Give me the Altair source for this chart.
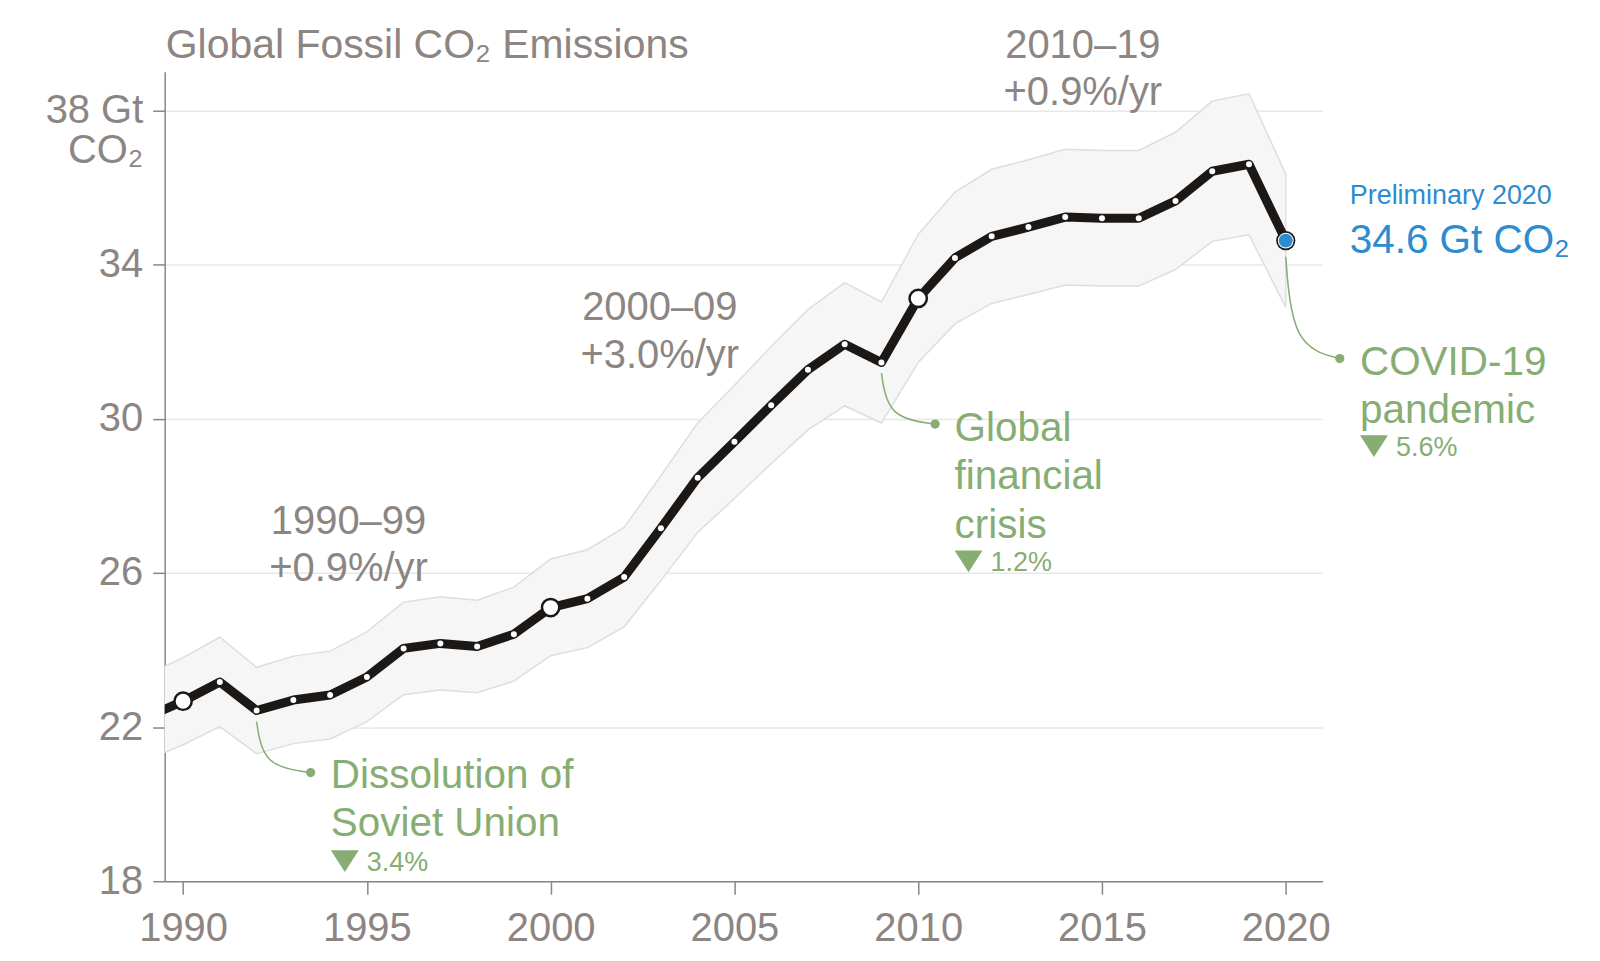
import altair as alt
import pandas as pd

# ---------------- data ----------------
years = list(range(1989, 2021))
emissions = [22.25, 22.67, 23.17, 22.43, 22.70, 22.83, 23.30, 24.04, 24.17, 24.09,
             24.41, 25.10, 25.33, 25.89, 27.16, 28.47, 29.40, 30.35, 31.27, 31.93,
             31.46, 33.12, 34.17, 34.73, 34.97, 35.23, 35.20, 35.20, 35.65, 36.42,
             36.60, 34.62]
upper = [23.36, 23.80, 24.33, 23.55, 23.84, 23.97, 24.47, 25.24, 25.38, 25.29,
         25.63, 26.36, 26.60, 27.18, 28.52, 29.89, 30.87, 31.87, 32.83, 33.53,
         33.03, 34.78, 35.88, 36.47, 36.72, 36.99, 36.96, 36.96, 37.43, 38.24,
         38.43, 36.35]
lower = [21.14, 21.54, 22.01, 21.31, 21.57, 21.69, 22.14, 22.84, 22.96, 22.89,
         23.19, 23.85, 24.06, 24.60, 25.80, 27.05, 27.93, 28.83, 29.71, 30.33,
         29.89, 31.46, 32.46, 32.99, 33.22, 33.47, 33.44, 33.44, 33.87, 34.60,
         34.77, 32.89]

milestone_years = [1990, 2000, 2010]
prelim_year = 2020

title_text = "Global Fossil CO₂ Emissions"
title_x = [1989.53]
title_y = [39.37]

decade_text = ["1990–99\n+0.9%/yr", "2000–09\n+3.0%/yr", "2010–19\n+0.9%/yr"]
decade_x = [1994.5, 2002.97, 2014.48]
decade_y = [27.02, 32.56, 39.37]

event_name = ["soviet", "gfc", "covid"]
event_text = ["Dissolution of\nSoviet Union", "Global\nfinancial\ncrisis", "COVID-19\npandemic"]
event_x = [1994.02, 2010.99, 2022.02]
event_y = [20.43, 29.42, 31.14]
event_drop = ["3.4%", "1.2%", "5.6%"]
event_drop_y = [18.26, 26.04, 29.03]
event_year = [1992, 2009, 2020]
event_start_y = [22.14, 31.18, 34.20]
event_dot_x = [1993.47, 2010.46, 2021.47]
event_dot_y = [20.82, 29.86, 31.56]

prelim_label = ["Preliminary 2020", "34.6 Gt CO₂"]
prelim_label_x = [2021.74, 2021.74]
prelim_label_y = [35.57, 34.31]

y_ticks = [18, 22, 26, 30, 34, 38]
x_ticks = [1990, 1995, 2000, 2005, 2010, 2015, 2020]

# ---------------- styles ----------------
FONT = "Liberation Sans"
GRAY = "#8c8582"
GREEN = "#86ad73"
BLUE = "#2b8ccf"
BLACK = "#1b1816"

df = pd.DataFrame({"year": years, "value": emissions, "upper": upper, "lower": lower})
pts = df[df.year >= 1990]
small = pts[~pts.year.isin(milestone_years + [prelim_year])]
big = pts[pts.year.isin(milestone_years)]
prelim = pts[pts.year == prelim_year]

xs = alt.Scale(domain=[1989.5, 2021], nice=False, zero=False)
ys = alt.Scale(domain=[18, 39], nice=False, zero=False)

X = alt.X("year:Q", scale=xs, axis=alt.Axis(
    values=x_ticks, format="d", grid=False, title=None,
    domainColor=GRAY, domainWidth=1.5, tickColor=GRAY, tickWidth=1.5, tickSize=13,
    labelFont=FONT, labelFontSize=40, labelColor=GRAY, labelPadding=14,
    labelFlush=False, labelOverlap=False, labelBound=False))
Y = alt.Y("value:Q", scale=ys, axis=alt.Axis(
    values=y_ticks, title=None, grid=True, gridColor="#e8e8e8", gridWidth=1.5,
    domainColor=GRAY, domainWidth=1.5, tickColor=GRAY, tickWidth=1.5, tickSize=12,
    labelFont=FONT, labelFontSize=40, labelColor=GRAY, labelPadding=10,
    labelExpr="datum.value == 38 ? ['38 Gt', 'CO₂'] : datum.label",
    labelLineHeight=40))

base = alt.Chart(df)

band = base.mark_area(clip=True, color="#f6f6f6", stroke="#dedede", strokeWidth=1.5).encode(
    x=X, y=alt.Y("upper:Q", scale=ys), y2="lower:Q")

line = base.mark_line(clip=True, color=BLACK, strokeWidth=9, strokeJoin="round").encode(x=X, y=Y)

small_dots = alt.Chart(small).mark_circle(color="white", opacity=1, size=36).encode(
    x=alt.X("year:Q", scale=xs), y=alt.Y("value:Q", scale=ys))
big_dots = alt.Chart(big).mark_point(filled=True, fill="white", stroke=BLACK, strokeWidth=2.5,
                                      size=300, opacity=1, shape="circle").encode(
    x=alt.X("year:Q", scale=xs), y=alt.Y("value:Q", scale=ys))
pre_outer = alt.Chart(prelim).mark_circle(color=BLACK, size=370, opacity=1).encode(
    x=alt.X("year:Q", scale=xs), y=alt.Y("value:Q", scale=ys))
pre_mid = alt.Chart(prelim).mark_circle(color="white", size=250, opacity=1).encode(
    x=alt.X("year:Q", scale=xs), y=alt.Y("value:Q", scale=ys))
pre_inner = alt.Chart(prelim).mark_circle(color=BLUE, size=195, opacity=1).encode(
    x=alt.X("year:Q", scale=xs), y=alt.Y("value:Q", scale=ys))

# title
title_df = pd.DataFrame({"x": title_x, "y": title_y, "t": [title_text]})
title = alt.Chart(title_df).mark_text(font=FONT, fontSize=41, color=GRAY, align="left",
                                      baseline="alphabetic").encode(
    x=alt.X("x:Q", scale=xs), y=alt.Y("y:Q", scale=ys), text="t:N")

# decade labels
dec_df = pd.DataFrame({"x": decade_x, "y": decade_y, "t": decade_text})
decades = alt.Chart(dec_df).mark_text(font=FONT, fontSize=40, color=GRAY, align="center",
                                      baseline="alphabetic", lineBreak="\n", lineHeight=48).encode(
    x=alt.X("x:Q", scale=xs), y=alt.Y("y:Q", scale=ys), text="t:N")

# event labels
ev_df = pd.DataFrame({"name": event_name, "x": event_x, "y": event_y, "t": event_text,
                      "drop": event_drop, "dy": event_drop_y,
                      "dot_x": event_dot_x, "dot_y": event_dot_y})
ev_df["tri_x"] = ev_df["x"] + 0.38
ev_df["tri_y"] = ev_df["dy"] + 0.26
ev_df["pct_x"] = ev_df["x"] + 0.98

events = alt.Chart(ev_df).mark_text(font=FONT, fontSize=40.5, color=GREEN, align="left",
                                    baseline="alphabetic", lineBreak="\n", lineHeight=48.5).encode(
    x=alt.X("x:Q", scale=xs), y=alt.Y("y:Q", scale=ys), text="t:N")
tris = alt.Chart(ev_df).mark_point(shape="M-1,-0.78L1,-0.78L0,0.78Z", filled=True, color=GREEN,
                                   size=784, opacity=1).encode(
    x=alt.X("tri_x:Q", scale=xs), y=alt.Y("tri_y:Q", scale=ys))
pcts = alt.Chart(ev_df).mark_text(font=FONT, fontSize=27, color=GREEN, align="left",
                                  baseline="alphabetic").encode(
    x=alt.X("pct_x:Q", scale=xs), y=alt.Y("dy:Q", scale=ys), text="drop:N")
ev_dots = alt.Chart(ev_df).mark_circle(color=GREEN, size=85, opacity=1).encode(
    x=alt.X("dot_x:Q", scale=xs), y=alt.Y("dot_y:Q", scale=ys))

# connectors
rows = []
for n, yr, sy, dx, dyv in zip(event_name, event_year, event_start_y, event_dot_x, event_dot_y):
    rows += [{"name": n, "o": 0, "x": yr, "y": sy},
             {"name": n, "o": 1, "x": yr, "y": dyv},
             {"name": n, "o": 2, "x": dx, "y": dyv}]
con_df = pd.DataFrame(rows)
connectors = alt.Chart(con_df).mark_line(color=GREEN, strokeWidth=1.5, interpolate="bundle",
                                         tension=0.75).encode(
    x=alt.X("x:Q", scale=xs), y=alt.Y("y:Q", scale=ys), detail="name:N", order="o:Q")

# preliminary label
pl_df = pd.DataFrame({"x": prelim_label_x, "y": prelim_label_y, "t": prelim_label,
                      "fs": [27, 40.5]})
prelim_text = alt.Chart(pl_df).mark_text(font=FONT, color=BLUE, align="left",
                                         baseline="alphabetic").encode(
    x=alt.X("x:Q", scale=xs), y=alt.Y("y:Q", scale=ys), text="t:N",
    size=alt.Size("fs:Q", scale=None, legend=None))

chart = alt.layer(
    band, line, small_dots, big_dots, pre_outer, pre_mid, pre_inner,
    connectors, ev_dots, events, tris, pcts, decades, title, prelim_text
).properties(
    width=1160, height=811,
    autosize=alt.AutoSizeParams(type="none"),
    padding={"left": 157, "top": 63, "right": 270, "bottom": 70},
    background="white"
).configure_view(stroke=None)

chart.save("out.html", embed_options={"renderer": "svg", "actions": False})
